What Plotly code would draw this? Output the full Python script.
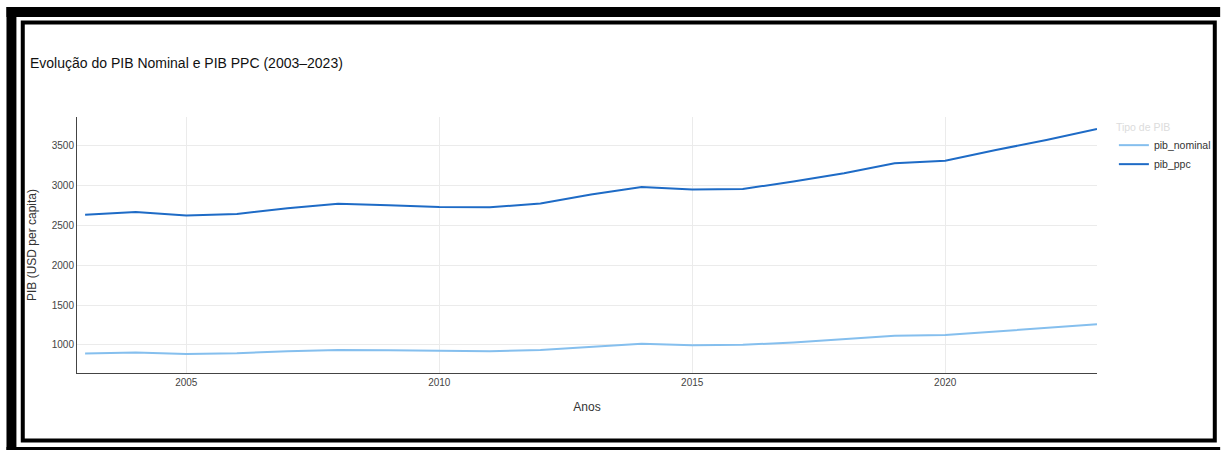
import plotly.graph_objects as go

years = list(range(2003, 2024))
pib_nominal = [890, 903, 886, 894, 919, 936, 932, 924, 919, 936, 970,
               1013, 996, 1000, 1030, 1072, 1114, 1123, 1165, 1216, 1258]
pib_ppc = [2634, 2671, 2625, 2646, 2718, 2772, 2755, 2734, 2730, 2776, 2890,
           2985, 2952, 2960, 3052, 3157, 3282, 3315, 3449, 3575, 3713]
series_names = ["pib_nominal", "pib_ppc"]
series_colors = ["#85BFEE", "#1E6BC6"]

W, H = 1228, 450
ML, MR, MT, MB = 77, 124, 117, 77
PW, PH = W - ML - MR, H - MT - MB

def px_x(p):
    return (p - ML) / PW

def px_y(p):
    return (H - MB - p) / PH

FONT = "Arial, Liberation Sans, sans-serif"

fig = go.Figure()
for name, vals, col in zip(series_names, [pib_nominal, pib_ppc], series_colors):
    fig.add_trace(go.Scatter(x=years, y=vals, mode="lines", name=name,
                             line=dict(color=col, width=2)))

# screenshot frame around the chart
shapes = []
def rect(x0, y0, x1, y1, fill=None, line=None, lw=0):
    d = dict(type="rect", xref="paper", yref="paper",
             x0=px_x(x0), x1=px_x(x1), y0=px_y(y1), y1=px_y(y0), layer="above")
    if fill:
        d["fillcolor"] = fill
        d["line"] = dict(width=0)
    else:
        d["line"] = dict(color=line, width=lw)
    shapes.append(d)

rect(6, 7, 16, 450, fill="black")
rect(6, 7, 1228, 17, fill="black")
rect(6, 447, 1228, 450, fill="black")
rect(22.4, 22.4, 1222.6, 440.6, line="black", lw=4)

fig.update_layout(
    width=W, height=H,
    margin=dict(l=ML, r=MR, t=MT, b=MB),
    paper_bgcolor="white", plot_bgcolor="white",
    font=dict(family=FONT, size=11, color="#444"),
    title=dict(text="Evolução do PIB Nominal e PIB PPC (2003–2023)",
               x=30 / W, xanchor="left", xref="container",
               y=1 - 63.5 / H, yanchor="middle", yref="container",
               font=dict(family=FONT, size=14, color="#111")),
    legend=dict(title=dict(text="Tipo de PIB", font=dict(color="#dcdcdc", size=10.5)),
                x=px_x(1121), xanchor="left", y=1, yanchor="top",
                font=dict(size=10.5, color="#333"), bgcolor="rgba(0,0,0,0)"),
    shapes=shapes,
    showlegend=True,
)
fig.update_xaxes(range=[2002.84, 2023], dtick=5, tick0=2005,
                 showline=True, linecolor="#444", linewidth=1,
                 showgrid=True, gridcolor="#ebebeb", zeroline=False,
                 ticks="", tickfont=dict(size=10, color="#444"),
                 title=dict(text="Anos", font=dict(size=12, color="#333")))
fig.update_yaxes(range=[646, 3864], dtick=500, tick0=0,
                 showline=True, linecolor="#444", linewidth=1,
                 showgrid=True, gridcolor="#ebebeb", zeroline=False,
                 ticks="", tickfont=dict(size=10, color="#444"),
                 title=dict(text="PIB (USD per capita)", standoff=12,
                            font=dict(size=12, color="#333")))

fig.write_html("out.html", config={"displayModeBar": False})
